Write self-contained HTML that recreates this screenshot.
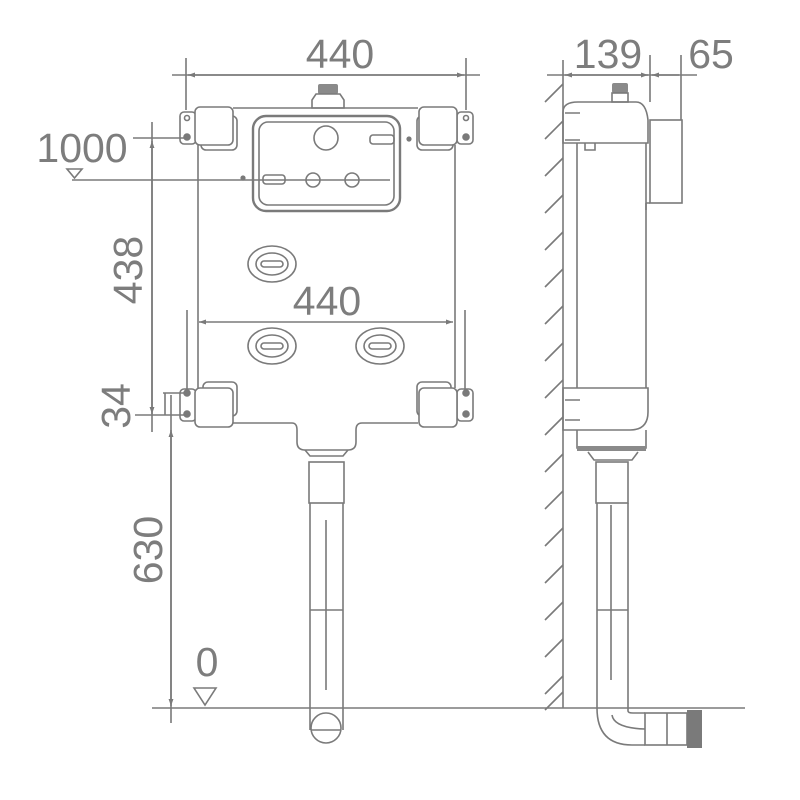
<!DOCTYPE html>
<html><head><meta charset="utf-8"><style>
html,body{margin:0;padding:0;background:#fff}
svg{display:block}
text{font-family:"Liberation Sans",sans-serif;fill:#7d7d7d}
</style></head><body>
<svg width="800" height="800" viewBox="0 0 800 800" xmlns="http://www.w3.org/2000/svg">
<defs>
<marker id="a" viewBox="0 0 10 10" refX="10" refY="5" markerWidth="9" markerHeight="7" orient="auto-start-reverse" markerUnits="userSpaceOnUse"><path d="M0,1.5 L10,5 L0,8.5 z" fill="#7a7a7a"/></marker>
</defs>
<g stroke="#7a7a7a" stroke-width="1.6" fill="none">
<!-- top 440 dim -->
<line x1="172" y1="75" x2="480" y2="75"/>
<line x1="188" y1="75" x2="464" y2="75" marker-start="url(#a)" marker-end="url(#a)"/>
<line x1="186" y1="58" x2="186" y2="110"/>
<line x1="466" y1="58" x2="466" y2="110"/>
<!-- front body -->
<path d="M233,108 L418,108 M198,145 L198,388 M455,145 L455,388 M233,423 L292,423 Q297,423 297,430 L297,442 Q297,450 305,450 L348,450 Q356,450 356,442 L356,430 Q356,423 362,423 L418,423"/>
<!-- knob -->
<rect x="318" y="84" width="20" height="10" rx="2" fill="#8a8a8a" stroke="none"/>
<path d="M316,94 L340,94 L344,100 L344,108 L312,108 L312,100 Z"/>
<!-- brackets -->
<g>
<rect x="180" y="112" width="16" height="32" rx="4"/><circle cx="187" cy="118" r="2.5"/><circle cx="187" cy="137" r="3" fill="#7a7a7a"/>
<rect x="201" y="116" width="36" height="34" rx="5"/>
<rect x="195" y="107" width="38" height="38" rx="5" fill="#fff"/>
<rect x="457" y="112" width="16" height="32" rx="4"/><circle cx="466" cy="118" r="2.5"/><circle cx="466" cy="137" r="3" fill="#7a7a7a"/>
<rect x="417" y="116" width="36" height="34" rx="5"/>
<rect x="419" y="107" width="38" height="38" rx="5" fill="#fff"/>
<rect x="180" y="389" width="16" height="32" rx="4"/><circle cx="187" cy="393" r="3" fill="#7a7a7a"/><circle cx="187" cy="414" r="3" fill="#7a7a7a"/>
<rect x="203" y="382" width="34" height="34" rx="5"/>
<rect x="195" y="388" width="38" height="39" rx="5" fill="#fff"/>
<rect x="457" y="389" width="16" height="32" rx="4"/><circle cx="466" cy="393" r="3" fill="#7a7a7a"/><circle cx="466" cy="414" r="3" fill="#7a7a7a"/>
<rect x="417" y="382" width="34" height="34" rx="5"/>
<rect x="419" y="388" width="38" height="39" rx="5" fill="#fff"/>
</g>
<!-- window -->
<rect x="253" y="116" width="147" height="95" rx="13" stroke-width="2.4"/>
<rect x="259" y="122" width="135" height="83" rx="9"/>
<circle cx="326" cy="138" r="12"/>
<circle cx="313" cy="180" r="7"/><circle cx="352" cy="180" r="7"/>
<line x1="72" y1="180" x2="390" y2="180"/>
<rect x="263" y="175" width="22" height="9" rx="3"/>
<rect x="370" y="135" width="24" height="9" rx="3"/>
<circle cx="409" cy="139" r="1.8" fill="#7a7a7a"/>
<circle cx="243" cy="178" r="1.8" fill="#7a7a7a"/>
<!-- ovals -->
<g>
<ellipse cx="272" cy="264" rx="24" ry="18"/><ellipse cx="272" cy="264" rx="16" ry="11"/><rect x="261" y="261" width="22" height="6" rx="3"/>
<ellipse cx="272" cy="346" rx="24" ry="18"/><ellipse cx="272" cy="346" rx="16" ry="11"/><rect x="261" y="343" width="22" height="6" rx="3"/>
<ellipse cx="380" cy="346" rx="24" ry="18"/><ellipse cx="380" cy="346" rx="16" ry="11"/><rect x="369" y="343" width="22" height="6" rx="3"/>
</g>
<!-- mid 440 dim -->
<line x1="199" y1="322" x2="453" y2="322" marker-start="url(#a)" marker-end="url(#a)"/>
<line x1="187" y1="310" x2="187" y2="395"/>
<line x1="465" y1="310" x2="465" y2="395"/>
<!-- front pipe -->
<path d="M305,450 L310,456 L343,456 L348,450"/>
<rect x="309" y="462" width="35" height="41"/>
<path d="M310,503 L310,730 M343,503 L343,730 M310,610 L343,610 M326,520 L326,690"/>
<circle cx="326" cy="728" r="15"/>
<line x1="311" y1="730" x2="341" y2="730"/>
<!-- floor -->
<line x1="152" y1="708" x2="745" y2="708"/>
<path d="M194,688 L216,688 L205,705 Z"/>
<!-- left dims -->
<line x1="133" y1="138" x2="186" y2="138"/>
<line x1="152" y1="122" x2="152" y2="432"/>
<line x1="152" y1="141" x2="152" y2="414" marker-start="url(#a)" marker-end="url(#a)"/>
<path d="M67,169 L82,169 L74.5,178 Z"/>
<line x1="74" y1="180" x2="74" y2="180"/>
<line x1="135" y1="415" x2="190" y2="415"/>
<line x1="163" y1="393" x2="190" y2="393"/>
<line x1="165" y1="393" x2="165" y2="415"/>
<line x1="171" y1="395" x2="171" y2="723"/>
<line x1="171" y1="430" x2="171" y2="706" marker-start="url(#a)" marker-end="url(#a)"/>
<!-- side dims -->
<line x1="547" y1="75" x2="697" y2="75"/>
<line x1="565" y1="75" x2="648" y2="75" marker-start="url(#a)" marker-end="url(#a)"/>
<line x1="652" y1="75" x2="679" y2="75" marker-start="url(#a)"/>
<line x1="650" y1="55" x2="650" y2="102"/>
<line x1="681" y1="55" x2="681" y2="120"/>
<!-- wall -->
<line x1="563" y1="60" x2="563" y2="708"/>
<g>
<path d="M545,102 L563,84 M545,139 L563,121 M545,176 L563,158 M545,213 L563,195 M545,250 L563,232 M545,287 L563,269 M545,324 L563,306 M545,361 L563,343 M545,398 L563,380 M545,435 L563,417 M545,472 L563,454 M545,509 L563,491 M545,546 L563,528 M545,583 L563,565 M545,620 L563,602 M545,657 L563,639 M545,694 L563,676 M545,710 L563,692"/>
</g>
<!-- side body -->
<rect x="612" y="83" width="16" height="10" rx="2" fill="#8a8a8a" stroke="none"/>
<rect x="612" y="93" width="16" height="9"/>
<path d="M563,143 L563,112 Q563,102 578,102 L636,102 Q646,102 648,120 L648,143 Z"/>
<path d="M565,113 L580,113 M565,140 L580,140"/>
<path d="M577,143 L577,388 M646,143 L646,388"/>
<path d="M585,143 L585,150 L595,150 L595,143"/>
<rect x="650" y="120" width="32" height="83"/>
<path d="M646,203 L650,203 M646,203 L646,210"/>
<path d="M563,388 L648,388 L648,412 Q648,430 630,430 L563,430 Z"/>
<path d="M565,400 L580,400 M565,420 L580,420"/>
<path d="M577,430 L577,448 L646,448 L646,430"/>
<rect x="577" y="446" width="69" height="5" fill="#8a8a8a" stroke="none"/>
<path d="M588,452 L594,460 L632,460 L638,452"/>
<rect x="596" y="462" width="32" height="41"/>
<path d="M597,503 L597,708 Q597,745 632,745 L645,745 M628,503 L628,711 Q628,713 633,713 L645,713 M597,610 L628,610 M611,505 L611,680 M612,715 Q614,728 645,729"/>
<rect x="645" y="713" width="42" height="32"/>
<line x1="667" y1="713" x2="667" y2="745"/>
<rect x="687" y="710" width="15" height="38" fill="#7a7a7a" stroke="none"/>
</g>
<line x1="74" y1="180" x2="74" y2="180" stroke="#7a7a7a"/>
<!-- text -->
<text x="340" y="68" font-size="41" text-anchor="middle">440</text>
<text x="327" y="315" font-size="41" text-anchor="middle">440</text>
<text x="608" y="68" font-size="41" text-anchor="middle">139</text>
<text x="711" y="68" font-size="41" text-anchor="middle">65</text>
<text x="82" y="162" font-size="41" text-anchor="middle">1000</text>
<text x="207" y="676" font-size="41" text-anchor="middle">0</text>
<text transform="translate(142,270) rotate(-90)" font-size="41" text-anchor="middle">438</text>
<text transform="translate(130,406) rotate(-90)" font-size="41" text-anchor="middle">34</text>
<text transform="translate(162,550) rotate(-90)" font-size="41" text-anchor="middle">630</text>
</svg>
</body></html>
